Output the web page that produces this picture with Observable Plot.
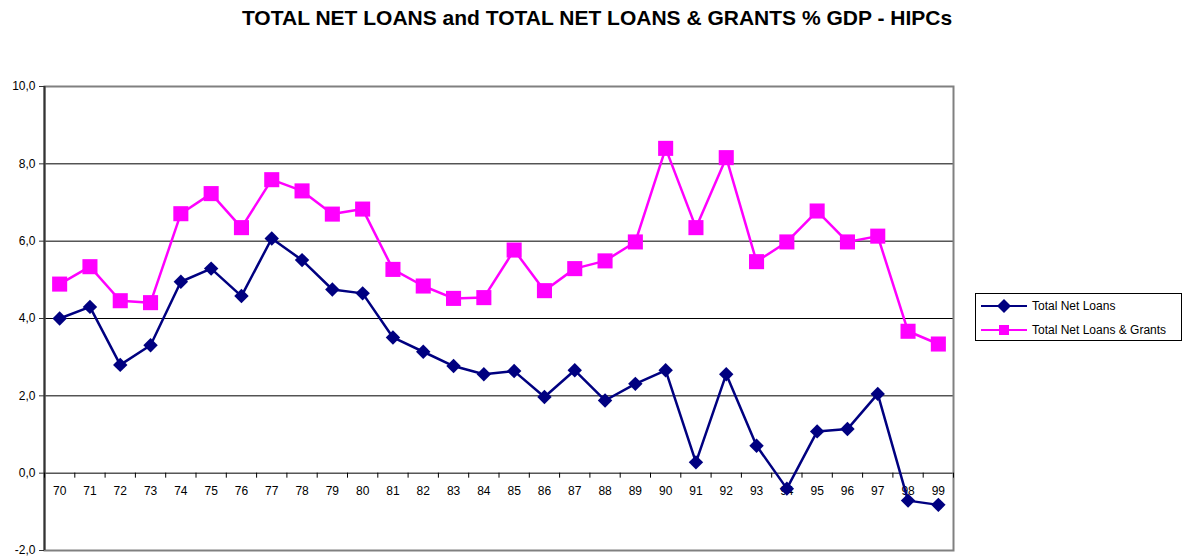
<!DOCTYPE html>
<html>
<head>
<meta charset="utf-8">
<script src="https://cdn.jsdelivr.net/npm/d3@7"></script>
<script src="https://cdn.jsdelivr.net/npm/@observablehq/plot@0.6"></script>
<style>
  html, body { margin: 0; padding: 0; background: #fff; }
  body { width: 1194px; height: 558px; position: relative; overflow: hidden; font-family: "Liberation Sans", Arial, sans-serif; }
  #title { position: absolute; left: 0; top: 6px; width: 1194px; text-align: center; font-weight: bold; font-size: 21px; color: #000; }
  #chart { position: absolute; left: 0; top: 60px; }
  #legend { position: absolute; left: 975px; top: 293px; width: 207px; height: 48px; border: 1px solid #000; box-sizing: border-box; background: #fff; font-size: 12px; }
  .row { position: absolute; left: 4px; height: 20px; display: flex; align-items: center; }
  .row svg { margin-right: 4px; }
</style>
</head>
<body>
<div id="title">TOTAL NET LOANS and TOTAL NET LOANS &amp; GRANTS % GDP - HIPCs</div>
<div id="chart"></div>
<div id="legend"></div>
<script>
const years = [70,71,72,73,74,75,76,77,78,79,80,81,82,83,84,85,86,87,88,89,90,91,92,93,94,95,96,97,98,99];
const netLoans = [4.00,4.30,2.80,3.31,4.95,5.29,4.58,6.07,5.51,4.75,4.65,3.51,3.14,2.77,2.56,2.64,1.97,2.66,1.88,2.31,2.66,0.28,2.56,0.71,-0.40,1.08,1.14,2.05,-0.71,-0.82];
const netLoansGrants = [4.89,5.34,4.46,4.41,6.71,7.23,6.35,7.59,7.30,6.70,6.83,5.27,4.84,4.52,4.54,5.77,4.72,5.29,5.49,5.98,8.40,6.35,8.16,5.47,5.98,6.78,5.98,6.13,3.67,3.34];
const yTicks = [-2,0,2,4,6,8,10];
const gridValues = [0,2,4,6,8];
const seriesNames = ["Total Net Loans", "Total Net Loans & Grants"];
const seriesColors = ["#000080", "#FF00FF"];

const rowsNL = years.map((y, i) => ({year: y, value: netLoans[i]}));
const rowsNLG = years.map((y, i) => ({year: y, value: netLoansGrants[i]}));
const boundaries = years.map(y => y - 0.5).concat([years[years.length - 1] + 0.5]);
const fmt = d => d.toFixed(1).replace(".", ",");

const plot = Plot.plot({
  width: 1194,
  height: 498,
  marginLeft: 44,
  marginRight: 241,
  marginTop: 26,
  marginBottom: 8,
  style: {fontFamily: "Liberation Sans, Arial, sans-serif", fontSize: "12px", color: "#000", background: "#fff"},
  x: {type: "linear", domain: [years[0] - 0.5, years[years.length - 1] + 0.5], axis: null},
  y: {domain: [-2, 10], axis: null},
  marks: [
    Plot.ruleY(gridValues, {stroke: "#000", strokeWidth: 1}),
    Plot.frame({stroke: "#808080", strokeWidth: 2}),
    Plot.ruleX([years[0] - 0.5], {stroke: "#333", strokeWidth: 2}),
    Plot.axisY({ticks: yTicks, tickFormat: fmt, tickSize: 5, tickPadding: 4, stroke: "#333", fontSize: 12, label: null}),
    Plot.ruleX(boundaries, {x: d => d, y1: 0, y2: 0, insetBottom: -5, stroke: "#000", strokeWidth: 1}),
    Plot.text(years, {x: d => d, y: 0, text: d => String(d), dy: 18, fontSize: 12, fill: "#000"}),
    Plot.line(rowsNL, {x: "year", y: "value", stroke: seriesColors[0], strokeWidth: 2.5}),
    Plot.dot(rowsNL, {x: "year", y: "value", symbol: "diamond2", r: 6.5, fill: seriesColors[0], stroke: "none"}),
    Plot.line(rowsNLG, {x: "year", y: "value", stroke: seriesColors[1], strokeWidth: 2.5}),
    Plot.dot(rowsNLG, {x: "year", y: "value", symbol: "square", r: 8.5, fill: seriesColors[1], stroke: "none"})
  ]
});
document.getElementById("chart").appendChild(plot);

const legend = document.getElementById("legend");
const symbols = ["diamond", "square"];
seriesNames.forEach((name, i) => {
  const row = document.createElement("div");
  row.className = "row";
  row.style.top = (i === 0 ? 2 : 26) + "px";
  const c = seriesColors[i];
  const sym = symbols[i] === "diamond"
    ? `<polygon points="24,3 31,10 24,17 17,10" fill="${c}"/>`
    : `<rect x="19" y="5" width="10" height="10" fill="${c}"/>`;
  row.innerHTML = `<svg width="48" height="20"><line x1="1" x2="47" y1="10" y2="10" stroke="${c}" stroke-width="2"/>${sym}</svg><span>${name}</span>`;
  legend.appendChild(row);
});
</script>
</body>
</html>
